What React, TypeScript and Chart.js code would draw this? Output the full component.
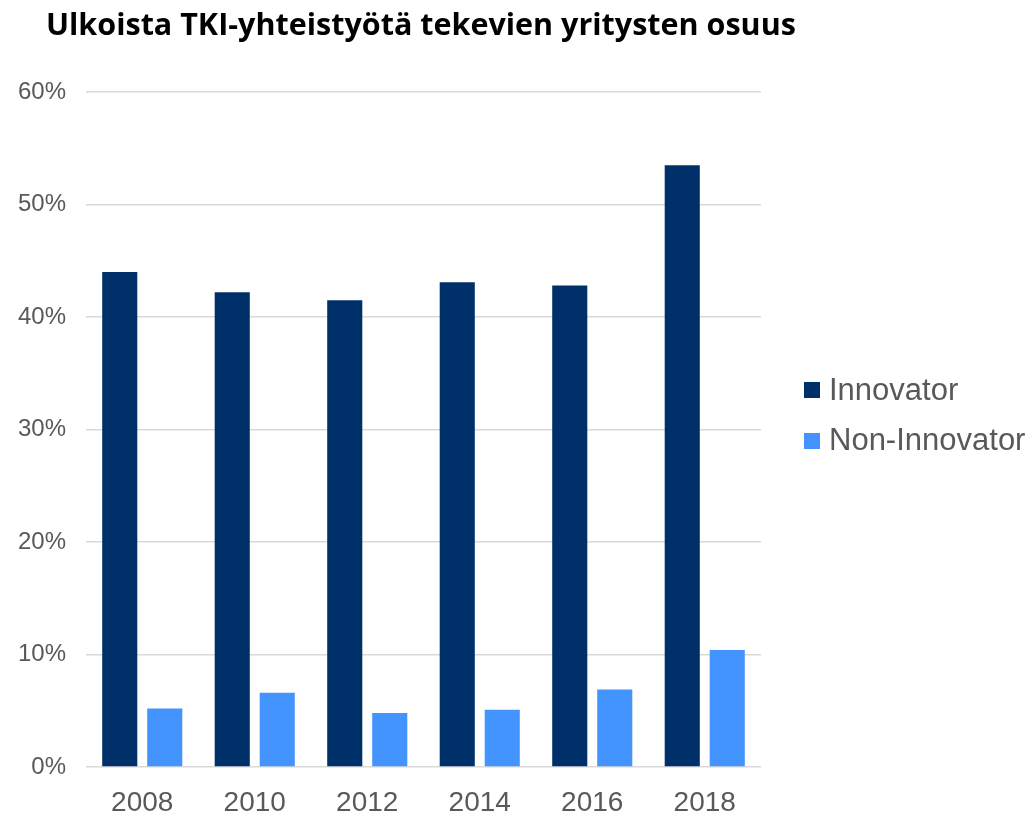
import React, { useEffect, useRef } from "react";
import { Chart, registerables } from "chart.js";

Chart.register(...registerables);

const TITLE = "Ulkoista TKI-yhteistyötä tekevien yritysten osuus";
const YEARS = ["2008", "2010", "2012", "2014", "2016", "2018"];
const INNOVATOR = [44.0, 42.2, 41.5, 43.1, 42.8, 53.5];
const NON_INNOVATOR = [5.2, 6.6, 4.8, 5.1, 6.9, 10.4];
const SERIES_NAMES = ["Innovator", "Non-Innovator"];
const COLORS = ["#003069", "#4494FF"];

export default function App() {
  const ref = useRef<HTMLCanvasElement | null>(null);

  useEffect(() => {
    if (!ref.current) return;
    const chart = new Chart(ref.current, {
      type: "bar",
      data: {
        labels: YEARS,
        datasets: [
          {
            label: SERIES_NAMES[0],
            data: INNOVATOR,
            backgroundColor: COLORS[0],
            categoryPercentage: 0.8,
            barPercentage: 0.78,
          },
          {
            label: SERIES_NAMES[1],
            data: NON_INNOVATOR,
            backgroundColor: COLORS[1],
            categoryPercentage: 0.8,
            barPercentage: 0.78,
          },
        ],
      },
      options: {
        responsive: false,
        animation: false,
        layout: { padding: { top: 92, right: 271, bottom: 0, left: 0 } },
        plugins: {
          legend: { display: false },
          title: { display: false },
          tooltip: { enabled: false },
        },
        scales: {
          x: {
            grid: { display: false, drawTicks: false },
            border: { display: false },
            ticks: {
              color: "#595959",
              font: { family: "'Liberation Sans', Arial, sans-serif", size: 28 },
              padding: 19,
              maxRotation: 0,
            },
            afterFit: (scale: any) => {
              scale.height = 48;
            },
          },
          y: {
            min: 0,
            max: 60,
            grid: { color: "#d9d9d9", lineWidth: 1.5, drawTicks: false },
            border: { display: false },
            ticks: {
              stepSize: 10,
              color: "#595959",
              font: { family: "'Liberation Sans', Arial, sans-serif", size: 24 },
              padding: 20,
              callback: (v: any) => v + "%",
            },
            afterFit: (scale: any) => {
              scale.width = 86;
            },
          },
        },
      },
    });
    return () => chart.destroy();
  }, []);

  const legendText: React.CSSProperties = {
    position: "absolute",
    left: 829,
    fontFamily: "'Liberation Sans', Arial, sans-serif",
    fontSize: 31,
    lineHeight: 1,
    color: "#595959",
    whiteSpace: "nowrap",
  };

  return (
    <div style={{ position: "absolute", left: 0, top: 0, width: 1032, height: 815, background: "#fff" }}>
      <canvas ref={ref} width={1032} height={815} style={{ position: "absolute", left: 0, top: 0 }} />
      <div
        style={{
          position: "absolute",
          left: 46,
          top: 5,
          fontFamily: "'Open Sans', sans-serif",
          fontWeight: 700,
          fontSize: 30.5,
          lineHeight: 1.2,
          color: "#000",
          whiteSpace: "nowrap",
        }}
      >
        {TITLE}
      </div>
      <div style={{ position: "absolute", left: 804, top: 382, width: 16, height: 16, background: COLORS[0] }} />
      <div style={{ ...legendText, top: 374 }}>{SERIES_NAMES[0]}</div>
      <div style={{ position: "absolute", left: 804, top: 433, width: 16, height: 16, background: COLORS[1] }} />
      <div style={{ ...legendText, top: 424 }}>{SERIES_NAMES[1]}</div>
    </div>
  );
}
